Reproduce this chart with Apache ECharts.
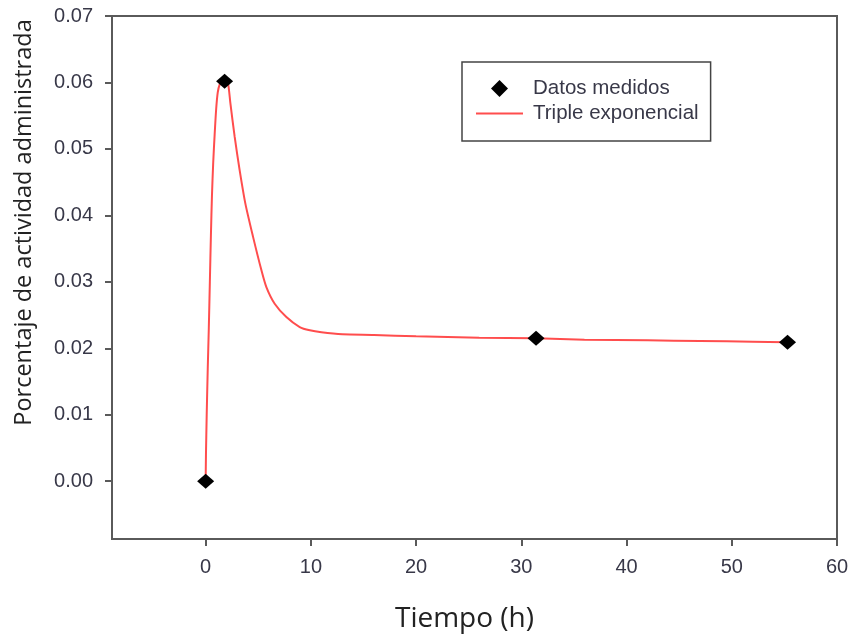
<!DOCTYPE html>
<html>
<head>
<meta charset="utf-8">
<script src="https://cdn.jsdelivr.net/npm/echarts@6/dist/echarts.min.js"></script>
<style>
html,body{margin:0;padding:0;background:#fff;}
#chart{width:852px;height:634px;}
</style>
</head>
<body>
<div id="chart"></div>
<script>
// Measured data (Datos medidos)
var measX = [0, 1.8, 31.4, 55.3];
var measY = [0, 0.0602, 0.0215, 0.0209];

// Fitted curve (Triple exponencial)
var curveX = [0, 0.03, 0.1, 0.2, 0.3, 0.4, 0.5, 0.6, 0.72, 0.85, 1.0, 1.15, 1.35, 1.6, 1.85, 2.12, 2.35, 2.76, 3.23, 3.77, 4.5, 5.29, 5.77, 6.56, 7.67, 8.94, 9.9, 11, 13, 16, 20, 26, 31.4, 36, 42, 47, 52, 55.3];
var curveY = [0, 0.004, 0.010, 0.017, 0.023, 0.030, 0.037, 0.043, 0.048, 0.052, 0.056, 0.0585, 0.0598, 0.0604, 0.0604, 0.0599, 0.0569, 0.0518, 0.0468, 0.0418, 0.0368, 0.0318, 0.0292, 0.0267, 0.0247, 0.0232, 0.0227, 0.0224, 0.0221, 0.0220, 0.0218, 0.0216, 0.0215, 0.0213, 0.0212, 0.0211, 0.0210, 0.0209];

// Tick labels
var xTicks = [0, 10, 20, 30, 40, 50, 60];
var yTicks = [0, 0.01, 0.02, 0.03, 0.04, 0.05, 0.06, 0.07];

var seriesNames = ['Datos medidos', 'Triple exponencial'];
var xTitle = 'Tiempo (h)';
var yTitle = 'Porcentaje de actividad administrada';

function zip(a, b) { return a.map(function (v, i) { return [v, b[i]]; }); }

var chart = echarts.init(document.getElementById('chart'), null, {renderer: 'canvas'});
var axisColor = '#5a5a5a';
var tickFont = {color: '#383848', fontFamily: 'Liberation Sans, Arial, sans-serif', fontSize: 20};
chart.setOption({
  animation: false,
  backgroundColor: '#ffffff',
  grid: {
    left: 112, top: 16, right: 15, bottom: 95,
    outerBoundsMode: 'none', containLabel: false,
    show: true, borderColor: axisColor, borderWidth: 2, backgroundColor: 'transparent'
  },
  xAxis: {
    type: 'value', min: -8.9, max: 60,
    splitLine: {show: false},
    axisLine: {show: true, onZero: false, lineStyle: {color: axisColor, width: 2}},
    axisTick: {show: true, inside: false, length: 7, customValues: xTicks, lineStyle: {color: axisColor, width: 2}},
    axisLabel: Object.assign({customValues: xTicks, margin: 18}, tickFont),
    name: xTitle, nameLocation: 'middle', nameGap: 66,
    nameTextStyle: {fontFamily: 'Open Sans', fontSize: 28, color: '#222', padding: [0, 20, 0, 0]}
  },
  yAxis: {
    type: 'value', min: -0.0087, max: 0.07,
    splitLine: {show: false},
    axisLine: {show: true, onZero: false, lineStyle: {color: axisColor, width: 2}},
    axisTick: {show: true, inside: false, length: 7, customValues: yTicks, lineStyle: {color: axisColor, width: 2}},
    axisLabel: Object.assign({customValues: yTicks, margin: 19,
      formatter: function (v) { return v.toFixed(2); }}, tickFont),
    name: yTitle, nameLocation: 'middle', nameGap: 76,
    nameTextStyle: {fontFamily: 'Open Sans', fontSize: 23.5, color: '#222', padding: [0, 0, 0, 110]}
  },
  legend: {
    orient: 'vertical', left: 462, top: 62,
    data: [
      {name: seriesNames[0], icon: 'path://M8,0L16,8L8,16L0,8Z'},
      {name: seriesNames[1], itemStyle: {opacity: 0}}
    ],
    backgroundColor: '#fff',
    borderColor: '#444', borderWidth: 1.5,
    padding: [16, 12, 17, 13],
    itemWidth: 47, itemHeight: 17, itemGap: 4,
    textStyle: {fontFamily: 'Liberation Sans, Arial, sans-serif', fontSize: 20.5, lineHeight: 20, color: '#383848', padding: [0, 0, 0, 5]}
  },
  series: [
    {
      name: seriesNames[1], type: 'line', data: zip(curveX, curveY),
      showSymbol: false, symbol: 'none', smooth: 0.25,
      lineStyle: {color: '#ff4d4d', width: 2},
      itemStyle: {color: '#ff4d4d'}, z: 2
    },
    {
      name: seriesNames[0], type: 'scatter', data: zip(measX, measY),
      symbol: 'diamond', symbolSize: [17, 15],
      itemStyle: {color: '#000', opacity: 1}, z: 3
    }
  ]
});
</script>
</body>
</html>
